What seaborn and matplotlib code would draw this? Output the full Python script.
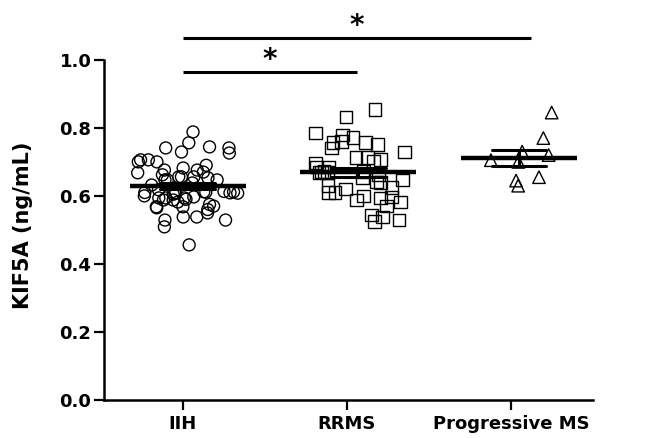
import numpy as np
import pandas as pd
import matplotlib
matplotlib.use("Agg")
import matplotlib.pyplot as plt
import seaborn as sns

# ---- data ----
groups = ["IIH", "RRMS", "Progressive MS"]
iih = [0.788, 0.744, 0.741, 0.756, 0.741, 0.726, 0.706, 0.700, 0.706, 0.729,
       0.700, 0.682, 0.670, 0.676, 0.690, 0.676, 0.668, 0.656, 0.662, 0.656,
       0.647, 0.653, 0.656, 0.632, 0.638, 0.647, 0.647, 0.618, 0.610, 0.612,
       0.608, 0.611, 0.609, 0.613, 0.607, 0.610, 0.612, 0.597, 0.588, 0.594,
       0.582, 0.594, 0.588, 0.594, 0.538, 0.529, 0.538, 0.529, 0.509, 0.568,
       0.565, 0.568, 0.456, 0.600, 0.590, 0.605, 0.575, 0.570, 0.560, 0.550]
rrms = [0.832, 0.853, 0.779, 0.756, 0.759, 0.771, 0.785, 0.756, 0.729, 0.741,
        0.750, 0.700, 0.706, 0.712, 0.712, 0.697, 0.685, 0.685, 0.672, 0.668,
        0.670, 0.671, 0.669, 0.647, 0.641, 0.653, 0.662, 0.609, 0.582, 0.597,
        0.594, 0.588, 0.624, 0.538, 0.524, 0.529, 0.544, 0.620, 0.600, 0.610,
        0.630, 0.640, 0.570]
prog = [0.845, 0.770, 0.730, 0.705, 0.700, 0.720, 0.655, 0.630, 0.645]
yticks = [0.0, 0.2, 0.4, 0.6, 0.8, 1.0]
comparisons = [("IIH", "RRMS", "*"), ("IIH", "Progressive MS", "*")]

# ---- layout / style constants ----
group_pos = {"IIH": 0.03, "RRMS": 1.07, "Progressive MS": 2.05}
tick_pos = {"IIH": 0.0, "RRMS": 1.0, "Progressive MS": 2.0}
markers = {"IIH": "o", "RRMS": "s", "Progressive MS": "^"}
msize = {"IIH": 8.6, "RRMS": 9.2, "Progressive MS": 9.0}
jit = {"IIH": 0.32, "RRMS": 0.30, "Progressive MS": 0.21}

values = {"IIH": iih, "RRMS": rrms, "Progressive MS": prog}
df = pd.concat(
    [pd.DataFrame({"group": g, "pos": group_pos[g], "value": values[g]}) for g in groups],
    ignore_index=True,
)

sns.set_style("ticks")
plt.rcParams["font.family"] = ["DejaVu Sans"]
plt.rcParams["font.weight"] = "bold"
for k in ("text.color", "axes.labelcolor", "xtick.color", "ytick.color", "axes.edgecolor"):
    plt.rcParams[k] = "black"

fig = plt.figure(figsize=(6.46, 4.38), dpi=100)
ax = fig.add_axes([104 / 646, 38 / 438, 489 / 646, 398 / 438])

np.random.seed(3)
for g in groups:
    sub = df[df["group"] == g]
    sns.stripplot(data=sub, x="pos", y="value", native_scale=True, jitter=jit[g],
                  marker=markers[g], size=msize[g], color="white",
                  edgecolor="black", linewidth=1.0, ax=ax, zorder=2)
for c in ax.collections:
    c.set_facecolor("none")

sns.pointplot(data=df, x="pos", y="value", native_scale=True, errorbar="se",
              capsize=0.34, linestyle="none", marker="_", markersize=84,
              markeredgewidth=3.2, color="black",
              err_kws={"linewidth": 2.2}, ax=ax, zorder=4)

ax.set_xlim(-0.48, 2.5)
ax.set_ylim(0, 1.17)
ax.spines["top"].set_visible(False)
ax.spines["right"].set_visible(False)
ax.spines["left"].set_bounds(0, 1.0)
for s in ("left", "bottom"):
    ax.spines[s].set_linewidth(1.8)
    ax.spines[s].set_color("black")

ax.set_yticks(yticks)
ax.set_yticklabels([f"{v:.1f}" for v in yticks])
ax.set_xticks([tick_pos[g] for g in groups])
ax.set_xticklabels(groups)
ax.tick_params(axis="both", length=7, width=1.6, labelsize=13, pad=2,
               colors="black")
ax.tick_params(axis="x", pad=4)
for lab in ax.get_xticklabels() + ax.get_yticklabels():
    lab.set_fontweight("bold")

ax.set_xlabel("")
ax.set_ylabel("KIF5A (ng/mL)", fontsize=15, fontweight="bold", color="black")
ax.yaxis.set_label_coords(-0.145, 0.44)

# significance brackets
bar_y = [0.965, 1.065]
bar_end = [1.06, 2.12]
for (g1, g2, txt), y, xe in zip(comparisons, bar_y, bar_end):
    x1 = tick_pos[g1]
    ax.plot([x1, xe], [y, y], color="black", lw=2.2, clip_on=False, solid_capstyle="butt")
    ax.text((x1 + xe) / 2, y - 0.008, txt, ha="center", va="bottom",
            fontsize=20, fontweight="bold", color="black")

fig.savefig("out.png", dpi=100, facecolor="white")
